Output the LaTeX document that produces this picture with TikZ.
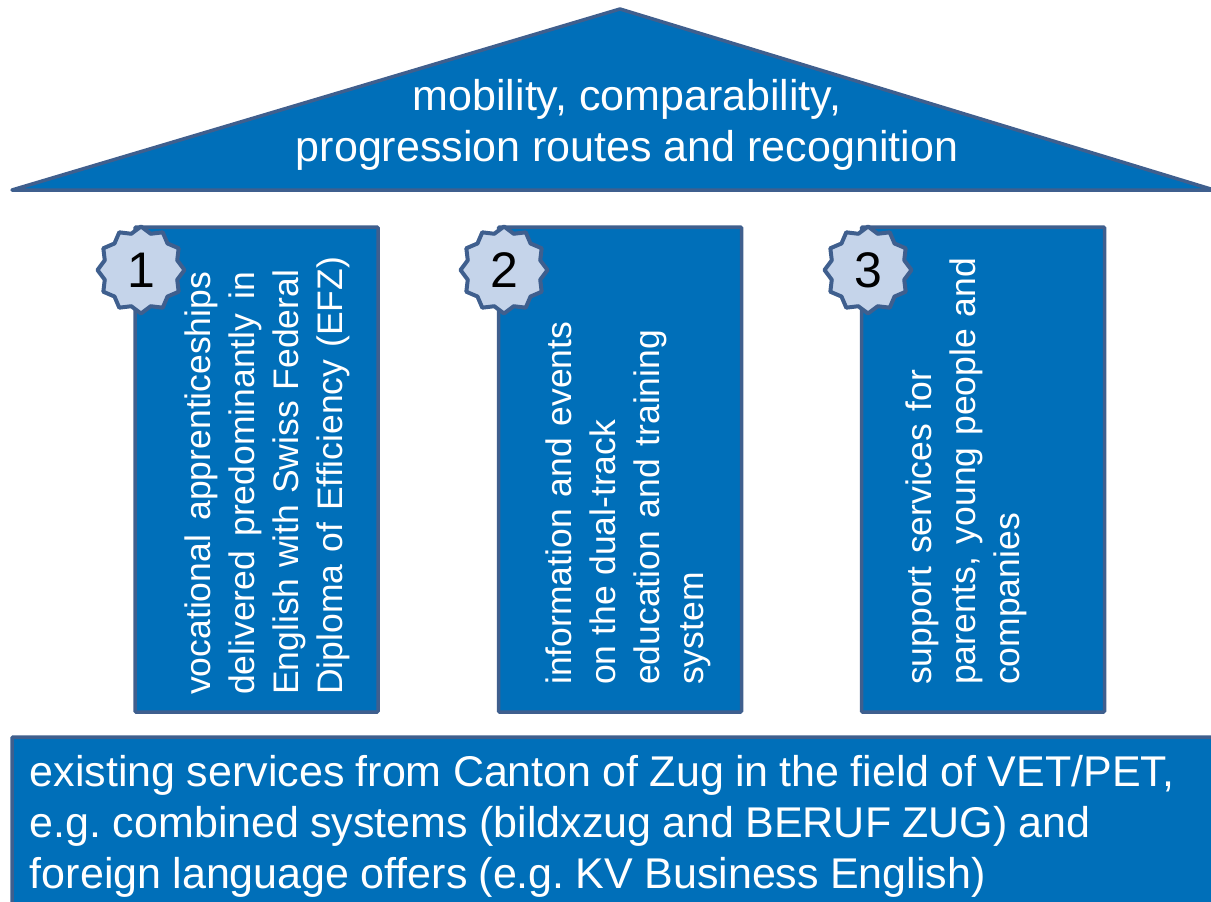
\documentclass[tikz,border=0pt]{standalone}
\usepackage{fontspec}
\setmainfont{Liberation Sans}
\usetikzlibrary{shapes.geometric}

\definecolor{panelblue}{HTML}{006FB9}
\definecolor{edgeblue}{HTML}{3F5F8E}
\definecolor{badgeblue}{HTML}{C5D4EA}

\newcommand{\basewords}{\frenchspacing\spaceskip 11.2pt\relax}

\tikzset{
    panel/.style={rectangle,draw=edgeblue,fill=panelblue,line width=3.5pt,rounded corners=1pt,text=white},
    pillar/.style={panel,minimum width=243pt,minimum height=485pt,inner sep=0pt},
    pillartext/.style={rotate=90,anchor=north west,inner sep=0pt,align=left,text=white,
        font=\fontsize{35.5}{44}\selectfont},
    badge/.style={star,star points=12,star point ratio=1.16,shape border rotate=0,draw=edgeblue,
        fill=badgeblue,line width=4pt,line join=round,minimum size=87pt,inner sep=0pt,text=black,
        font=\fontsize{50}{50}\selectfont}
}

\begin{document}
\begin{tikzpicture}[x=1pt,y=-1pt]
    \useasboundingbox (0,0) rectangle (1211,902);

    % Roof
    \coordinate (roofl) at (12,190);
    \coordinate (roofr) at (1214,190);
    \coordinate (rooft) at (620,9);
    \draw[draw=edgeblue,fill=panelblue,line width=3.5pt,line join=round] (roofl) -- (rooft) -- (roofr) -- cycle;
    \node (rooftext) at (627,125) [align=center,text=white,inner sep=0pt,
        font=\fontsize{43}{51}\selectfont] {mobility, comparability,\\progression routes and recognition};

    % Pillars
    \node (pillara) at (256.5,469.5) [pillar] {};
    \node (pillarb) at (620,469.5) [pillar] {};
    \node (pillarc) at (983,469.5) [pillar] {};

    % Pillar texts
    \node (texta) at (185,695) [pillartext] {\makebox[423pt][s]{vocational apprenticeships}\\
        \makebox[423pt][s]{delivered predominantly in}\\
        \makebox[425pt][s]{English with Swiss Federal}\\
        \makebox[438pt][s]{Diploma of Efficiency (EFZ)}};
    \node (textb) at (546,685) [pillartext] {\makebox[363pt][s]{information and events}\\
        \makebox[265pt][s]{on the dual-track}\\
        \makebox[355pt][s]{education and training}\\
        system};
    \node (textc) at (906,685) [pillartext] {\makebox[315pt][s]{support services for}\\
        \makebox[427pt][s]{parents, young people and}\\
        companies};

    % Badges
    \node (badgea) at (141,270) [badge] {1};
    \node (badgeb) at (504,270) [badge] {2};
    \node (badgec) at (868,270) [badge] {3};

    % Base
    \node (base) at (636,826.5) [panel,minimum width=1248pt,minimum height=179pt,inner sep=0pt,
        text width=1212pt,align=left,font=\fontsize{43}{51}\selectfont]
        {\basewords existing services from Canton of Zug in the field of VET/PET,\\
        e.g. combined systems (bildxzug and BERUF ZUG) and\\
        foreign language offers (e.g. KV Business English)};
\end{tikzpicture}
\end{document}
